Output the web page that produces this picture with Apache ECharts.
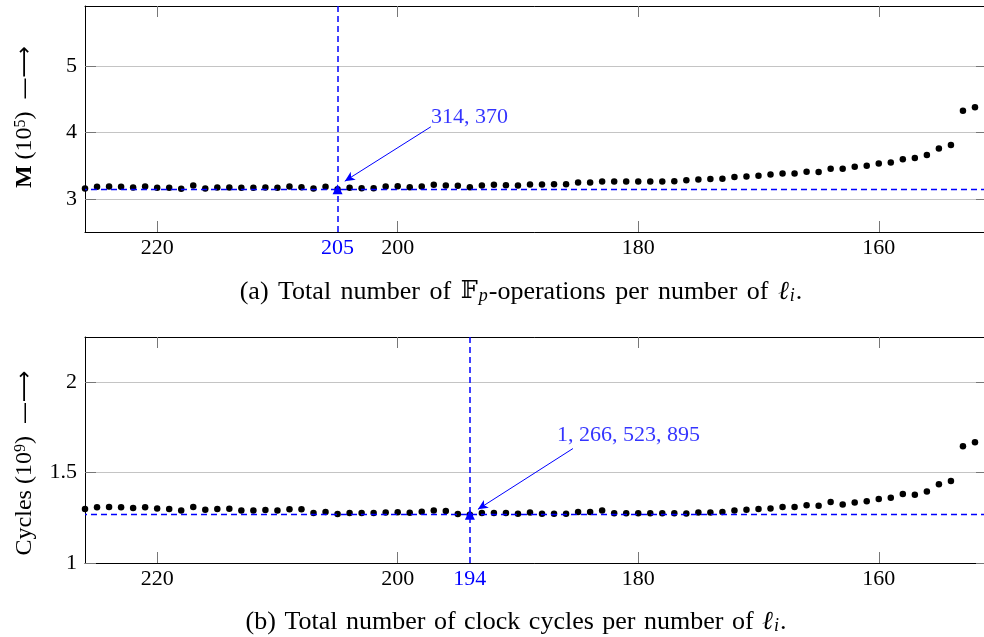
<!DOCTYPE html>
<html><head><meta charset="utf-8">
<script src="https://cdn.jsdelivr.net/npm/echarts@6/dist/echarts.min.js"></script>
<style>html,body{margin:0;padding:0;background:#fff}#c{width:984px;height:637px}</style>
</head><body><div id="c"></div>
<script>
// number of l_i (x values, descending)
const ell = [226,225,224,223,222,221,220,219,218,217,216,215,214,213,212,211,210,209,208,207,
  206,205,204,203,202,201,200,199,198,197,196,195,194,193,192,191,190,189,188,187,
  186,185,184,183,182,181,180,179,178,177,176,175,174,173,172,171,170,169,168,167,
  166,165,164,163,162,161,160,159,158,157,156,155,154,153,152];
// (a) total Fp-operations, units of 10^5
const fpOps = [3.155,3.18,3.185,3.18,3.17,3.185,3.165,3.165,3.15,3.20,3.155,3.17,3.17,3.165,3.165,3.17,3.165,3.185,3.175,3.155,
  3.18,3.1437,3.165,3.16,3.16,3.185,3.19,3.175,3.185,3.21,3.20,3.195,3.175,3.20,3.21,3.205,3.20,3.215,3.215,3.22,
  3.22,3.245,3.245,3.26,3.26,3.26,3.26,3.26,3.26,3.265,3.278,3.29,3.296,3.30,3.326,3.336,3.346,3.366,3.381,3.381,
  3.406,3.401,3.451,3.451,3.481,3.496,3.531,3.546,3.596,3.612,3.657,3.757,3.807,4.323,4.378];
// (b) total clock cycles, units of 10^9
const cycles = [1.298,1.308,1.310,1.308,1.304,1.308,1.302,1.298,1.291,1.310,1.295,1.298,1.300,1.291,1.291,1.293,1.291,1.297,1.297,1.276,
  1.282,1.271,1.276,1.276,1.276,1.280,1.281,1.278,1.284,1.291,1.287,1.271,1.2665,1.276,1.276,1.276,1.273,1.280,1.273,1.273,
  1.273,1.282,1.282,1.290,1.275,1.275,1.275,1.275,1.275,1.275,1.274,1.279,1.280,1.282,1.291,1.295,1.298,1.302,1.310,1.310,
  1.319,1.317,1.337,1.324,1.335,1.341,1.354,1.361,1.381,1.378,1.396,1.435,1.453,1.646,1.668];
// ticks
const xTickVals = [220,200,180,160];
const yTicksA = [3,4,5];
const yTicksB = [1,1.5,2];
// optima
const optEllA = 205, optValA = 3.1437, optLabelA = '314, 370';
const optEllB = 194, optValB = 1.2665, optLabelB = '1, 266, 523, 895';

const FONT = "'Liberation Serif', 'DejaVu Serif', serif";
const BLUE = '#0000ff';
const FS = 22;

const chart = echarts.init(document.getElementById('c'), null, {renderer:'canvas'});

function xAxisPair(gi, optEll) {
  const labels = xTickVals.concat([optEll]).sort((a,b)=>b-a);
  const base = {
    type:'value', gridIndex:gi, min:151, max:226, inverse:true,
    axisLine:{show:true, lineStyle:{color:'#000', width:1}},
    axisTick:{show:true, inside:true, length:11, customValues:xTickVals, lineStyle:{color:'#777', width:1}},
    splitLine:{show:false}
  };
  return [
    Object.assign({}, base, {position:'bottom',
      axisLabel:{show:true, customValues:labels, margin:5, fontFamily:FONT, fontSize:FS, color:'#000',
        formatter:v => (v === optEll ? '{hl|' + v + '}' : String(v)),
        rich:{hl:{color:BLUE, fontFamily:FONT, fontSize:FS}}}}),
    Object.assign({}, base, {position:'top', axisLabel:{show:false}})
  ];
}
function yAxisPair(gi, min, max, ticks, name, namePad, fmt) {
  const base = {
    type:'value', gridIndex:gi, min:min, max:max,
    axisLine:{show:true, lineStyle:{color:'#000', width:1}},
    axisTick:{show:true, inside:true, length:11, customValues:ticks, lineStyle:{color:'#777', width:1}}
  };
  const rs = {fontFamily:FONT, fontSize:24, color:'#000'};
  return [
    Object.assign({}, base, {position:'left',
      splitLine:{show:true, lineStyle:{color:'#c4c4c4', width:1}},
      axisLabel:{show:true, customValues:ticks, margin:8, fontFamily:FONT, fontSize:FS, color:'#000', formatter:fmt},
      name:name, nameLocation:'middle', nameGap:48,
      nameTextStyle:{fontFamily:FONT, fontSize:24, color:'#000', padding:namePad,
        rich:{
          b:Object.assign({}, rs, {fontWeight:'bold'}),
          t:rs,
          sup:{fontFamily:FONT, fontSize:16, color:'#000', verticalAlign:'top', lineHeight:16},
          ar:{fontFamily:"'DejaVu Sans', sans-serif", fontSize:22, color:'#000'}
        }}}),
    Object.assign({}, base, {position:'right', splitLine:{show:false}, axisLabel:{show:false}})
  ];
}

const xa = xAxisPair(0, optEllA).concat(xAxisPair(1, optEllB));
const ya = yAxisPair(0, 2.5, 5.9, yTicksA, '{b|M}{t| (10}{sup|5}{t|)  }{ar|—⟶}', [0,0,0,4], v => String(v))
  .concat(yAxisPair(1, 1, 2.25, yTicksB, '{t|Cycles (10}{sup|9}{t|)  }{ar|—⟶}', [0,26,0,0], v => String(v)));

function panelSeries(xi, yi, vals, optEll, optVal, label, arrowFrom, arrowTo, labelPos) {
  return [
    {type:'scatter', xAxisIndex:xi, yAxisIndex:yi, symbol:'circle', symbolSize:6.5,
     itemStyle:{color:'#000', opacity:1}, data: ell.map((x,i)=>[x, vals[i]]), z:3},
    {type:'scatter', xAxisIndex:xi, yAxisIndex:yi, symbol:'triangle', symbolSize:[10,10],
     itemStyle:{color:BLUE, opacity:1}, data:[[optEll, optVal]], z:5,
     markLine:{silent:true, symbol:['none','none'], label:{show:false},
       lineStyle:{color:BLUE, type:[6,4], width:1.4, opacity:1},
       data:[{xAxis:optEll, lineStyle:{color:BLUE, width:1.5}}, {yAxis:optVal, lineStyle:{color:BLUE, width:1.3}}]}},
    {type:'scatter', xAxisIndex:xi, yAxisIndex:yi, symbolSize:0, data:[arrowFrom], z:6,
     label:{show:true, position:labelPos, align:'left', verticalAlign:'middle',
       formatter:label, color:BLUE, fontFamily:FONT, fontSize:22},
     markLine:{silent:true, symbol:['none','arrow'], symbolSize:[7,10], label:{show:false},
       lineStyle:{color:BLUE, type:'solid', width:1, opacity:1},
       data:[[{coord:arrowFrom}, {coord:arrowTo}]]}}
  ];
}

const series = panelSeries(0, 0, fpOps, optEllA, optValA, optLabelA, [197.24, 4.083], [204.4, 3.265], [0, -10])
  .concat(panelSeries(2, 2, cycles, optEllB, optValB, optLabelB, [185.43, 1.633], [193.33, 1.297], [-16, -13]));

const CFS = 26;
function capRich(sp) {
  return {
    sp:{fontFamily:FONT, fontSize:CFS, padding:[0,sp,0,0]},
    bb:{fontFamily:"'DejaVu Serif','DejaVu Sans',serif", fontSize:24, fill:'#000'},
    it:{fontFamily:FONT, fontStyle:'italic', fontSize:CFS},
    sub:{fontFamily:FONT, fontStyle:'italic', fontSize:18, verticalAlign:'bottom', lineHeight:18, padding:[0,1,0,1]}
  };
}
function cap(s) { return s.split(' ').join('{sp| }'); }

chart.setOption({
  animation:false,
  backgroundColor:'#fff',
  grid:[
    {left:85, top:6, width:902, height:226, containLabel:false, outerBoundsMode:'none'},
    {left:85, top:337, width:902, height:226, containLabel:false, outerBoundsMode:'none'}
  ],
  xAxis: xa.map((a,i)=>Object.assign(a,{gridIndex: i<2?0:1})),
  yAxis: ya.map((a,i)=>Object.assign(a,{gridIndex: i<2?0:1})),
  series: series,
  graphic:[
    {type:'text', x:521, y:292, style:{
      text:cap('(a) Total number of {bb|𝔽}{sub|p}-operations per number of {it|ℓ}{sub|i}.'),
      textAlign:'center', textVerticalAlign:'middle', fontFamily:FONT, fontSize:CFS, fill:'#000', rich:capRich(3)}},
    {type:'text', x:516, y:622, style:{
      text:cap('(b) Total number of clock cycles per number of {it|ℓ}{sub|i}.'),
      textAlign:'center', textVerticalAlign:'middle', fontFamily:FONT, fontSize:CFS, fill:'#000', rich:capRich(2)}}
  ]
});
</script></body></html>
